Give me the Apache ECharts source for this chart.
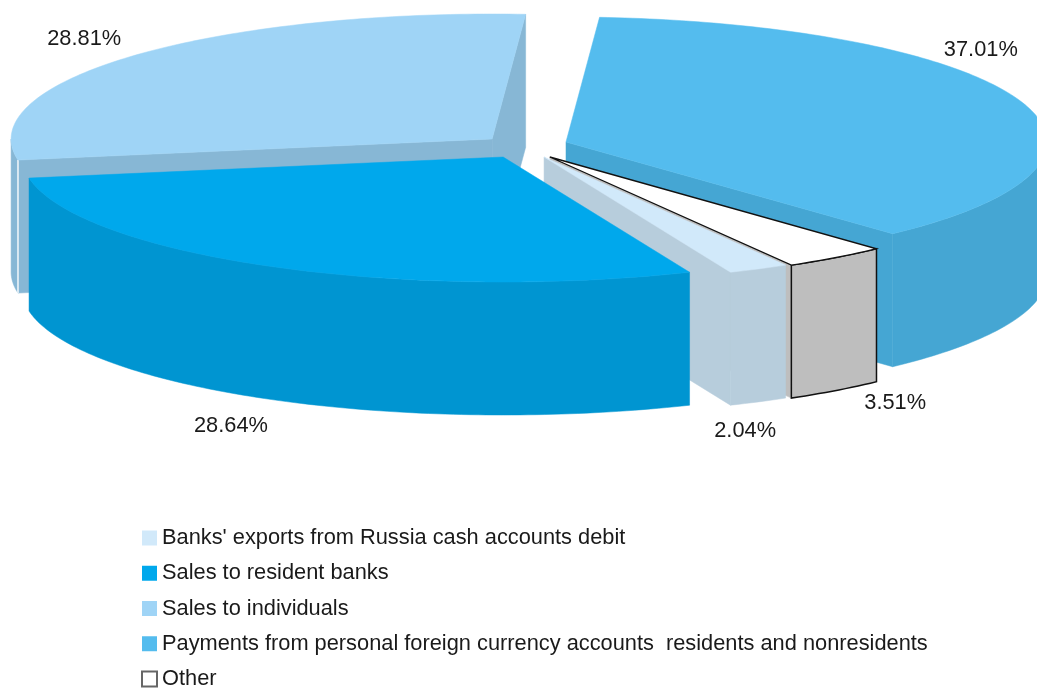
<!DOCTYPE html>
<html>
<head>
<meta charset="utf-8">
<style>html,body{margin:0;padding:0;background:#fff}#c{width:1037px;height:688px}</style>
<script src="https://cdn.jsdelivr.net/npm/echarts@6/dist/echarts.min.js"></script>
</head>
<body>
<div id="c"></div>
<script>
// Data, clockwise from the start angle
const categories = [
  'Payments from personal foreign currency accounts  residents and nonresidents',
  'Other',
  "Banks' exports from Russia cash accounts debit",
  'Sales to resident banks',
  'Sales to individuals'
];
const shares = [37.01, 3.51, 2.04, 28.64, 28.81];
const legendOrder = [2, 3, 4, 0, 1];
const drawOrder = [4, 0, 1, 2, 3];

// Styling per slice
const topColors = ['#54bcee', '#ffffff', '#d1e9fa', '#00a8ec', '#9fd4f6'];
const sideColors = ['#45a6d3', '#bebebe', '#b7cddc', '#0095d1', '#87b7d5'];
const outlineColors = [null, '#111111', null, null, null];
const seamColors = [null, null, null, null, '#f4f9fc'];
// Explosion of each slice, in radius units of the plane
const explodeX = [0.0956, 0.062, 0.050, -0.035, -0.058];
const explodeY = [0.064, -0.056, -0.056, -0.056, 0.088];
// Percentage label anchors, in radius units of the plane
const labelX = [0.958, 0.780, 0.468, -0.601, -0.906];
const labelY = [0.800, -2.024, -2.248, -2.208, 0.888];

const START_ANGLE = 4;
const DEPTH = 1.064;
const RAD = Math.PI / 180;
const total = shares.reduce((a, b) => a + b, 0);

const fromAngle = [];
const toAngle = [];
shares.reduce((acc, v, i) => {
  fromAngle[i] = START_ANGLE + acc / total * 360;
  toAngle[i] = START_ANGLE + (acc + v) / total * 360;
  return acc + v;
}, 0);

function renderSlice(i) {
  return function (params, api) {
    const ox = explodeX[i], oy = explodeY[i];
    const pt = (ang, r, z) => api.coord([
      ox + Math.sin(ang * RAD) * r,
      oy + Math.cos(ang * RAD) * r - z
    ]);
    const arc = (a, b, z) => {
      const out = [];
      const n = Math.max(2, Math.ceil(Math.abs(b - a)));
      for (let k = 0; k <= n; k++) out.push(pt(a + (b - a) * k / n, 1, z));
      return out;
    };
    const side = sideColors[i];
    const line = outlineColors[i];
    const sideStyle = { fill: side, stroke: line || side, lineWidth: line ? 1.5 : 0.5 };
    const children = [];
    const a0 = fromAngle[i], a1 = toAngle[i];
    const cutFace = (ang) => ({
      type: 'polygon',
      shape: { points: [pt(0, 0, 0), pt(ang, 1, 0), pt(ang, 1, DEPTH), pt(0, 0, DEPTH)] },
      style: { fill: side, stroke: side, lineWidth: 0.5 }
    });
    if (Math.sin(a1 * RAD) > 0) children.push(cutFace(a1));
    if (Math.sin(a0 * RAD) < 0) children.push(cutFace(a0));
    // outer wall: only the part of the rim that faces the viewer
    const w0 = Math.max(a0, 90), w1 = Math.min(a1, 270);
    if (w1 > w0) {
      const upper = arc(w0, w1, 0);
      const lower = arc(w1, w0, DEPTH);
      children.push({ type: 'polygon', shape: { points: upper.concat(lower) }, style: sideStyle });
    }
    if (seamColors[i]) {
      const s = pt(a0, 1, 0), e = pt(a0, 1, DEPTH);
      children.push({
        type: 'line',
        shape: { x1: s[0], y1: s[1], x2: e[0], y2: e[1] },
        style: { stroke: seamColors[i], lineWidth: 1.5 }
      });
    }
    children.push({
      type: 'polygon',
      shape: { points: [pt(0, 0, 0)].concat(arc(a0, a1, 0)) },
      style: { fill: topColors[i], stroke: line || topColors[i], lineWidth: line ? 1.3 : 0.5 }
    });
    const lp = api.coord([labelX[i], labelY[i]]);
    children.push({
      type: 'text',
      z2: 10,
      style: {
        x: lp[0], y: lp[1],
        text: api.value(0).toFixed(2) + '%',
        fill: '#1a1a1a',
        font: '21.8px "Liberation Sans"',
        align: 'center',
        verticalAlign: 'middle'
      }
    });
    return { type: 'group', children };
  };
}

const chart = echarts.init(document.getElementById('c'), null, { renderer: 'canvas' });
chart.setOption({
  animation: false,
  backgroundColor: '#ffffff',
  grid: { left: 39, top: 25, width: 962, height: 250, containLabel: false },
  xAxis: { type: 'value', min: -1, max: 1, show: false },
  yAxis: { type: 'value', min: -1, max: 1, show: false },
  legend: {
    orient: 'vertical',
    left: 141,
    top: 527,
    height: 220,
    padding: 0,
    itemWidth: 15,
    itemHeight: 15,
    itemGap: 13.25,
    icon: 'rect',
    selectedMode: false,
    data: legendOrder.map(i => categories[i]),
    textStyle: { fontFamily: 'Liberation Sans', fontSize: 21.8, lineHeight: 22, color: '#1a1a1a' }
  },
  series: drawOrder.map(i => ({
    type: 'custom',
    name: categories[i],
    silent: true,
    clip: false,
    renderItem: renderSlice(i),
    encode: { x: 0, y: 1 },
    data: [[shares[i], 0]],
    itemStyle: outlineColors[i]
      ? { color: '#ffffff', borderColor: '#666666', borderWidth: 1.2 }
      : { color: topColors[i] }
  }))
});
</script>
</body>
</html>
